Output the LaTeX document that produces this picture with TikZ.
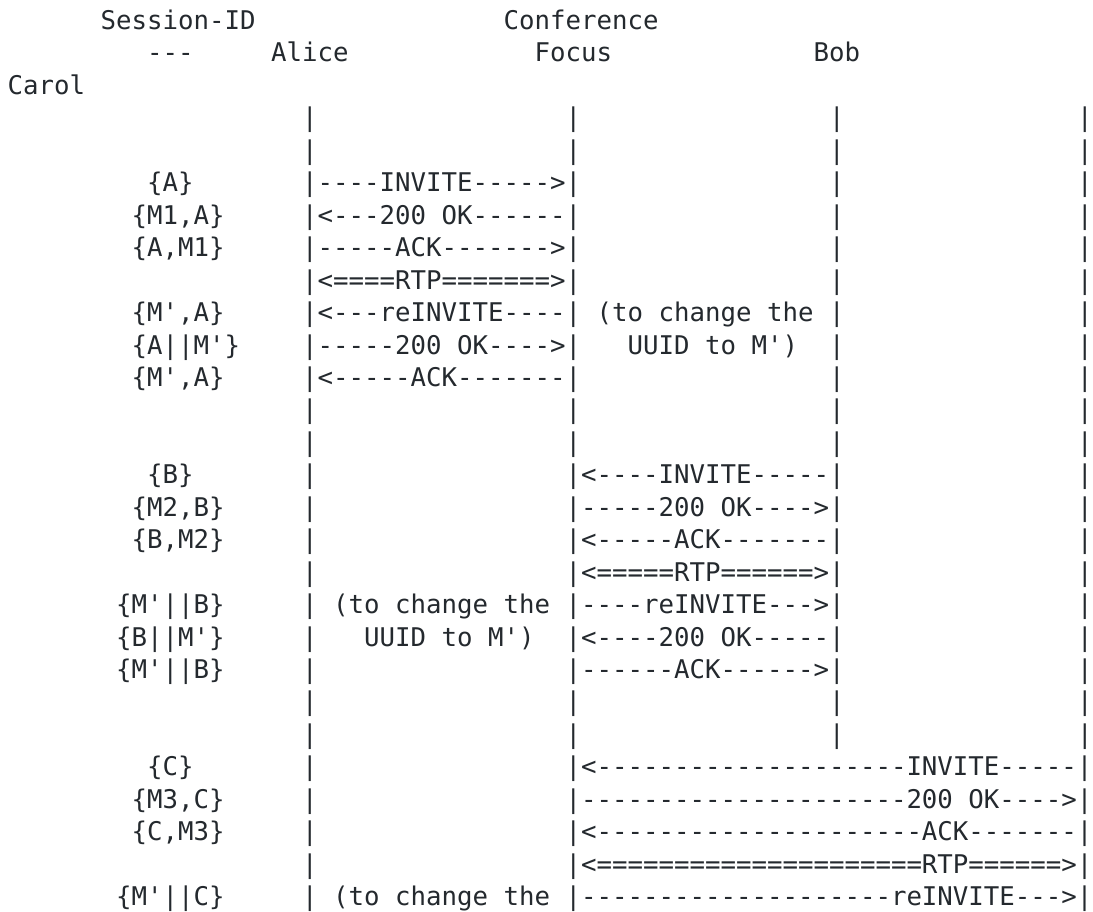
\documentclass[tikz,border=0pt]{standalone}
\usepackage{fontspec}
\setmonofont{DejaVu Sans Mono}
\definecolor{ink}{RGB}{36,41,46}
\tikzset{ascii/.style={anchor=base west,inner sep=0pt,outer sep=0pt,text=ink,
  font=\ttfamily\fontsize{25.74}{32}\selectfont}}
% one text cell: row, column, text
\newcommand{\asc}[3]{\node[ascii] (r#1c#2) at ({7.6pt+#2*15.5pt},{-29.5pt-#1*32.45pt}) {#3};}
\begin{document}
\begin{tikzpicture}
            \fill[white] (0,0) rectangle (1093pt,-911pt);
            \useasboundingbox (0,0) rectangle (1093pt,-911pt);
            % header
            \asc{0}{6}{Session-ID}
            \asc{0}{32}{Conference}
            \asc{1}{9}{---}
            \asc{1}{17}{Alice}
            \asc{1}{34}{Focus}
            \asc{1}{52}{Bob}
            \asc{2}{0}{Carol}
            % plain lifelines
            \foreach \r in {3,4,12,13,21,22}
                \foreach \c in {19,36,53}
                    {\asc{\r}{\c}{|}}
            \foreach \r in {5,6,7,8,11}
                {\asc{\r}{53}{|}}
            \foreach \r in {3,...,22}
                {\asc{\r}{69}{|}}
            \foreach \r in {14,15,16,17,20,23,24,25,26}
                {\asc{\r}{19}{|}}
            
            % Alice joins
            \asc{5}{9}{\{A\}}
            \asc{5}{19}{|----INVITE----->|}
            \asc{6}{8}{\{M1,A\}}
            \asc{6}{19}{|<---200 OK------|}
            \asc{7}{8}{\{A,M1\}}
            \asc{7}{19}{|-----ACK------->|}
            \asc{8}{19}{|<====RTP=======>|}
            \asc{9}{8}{\{M',A\}}
            \asc{9}{19}{|<---reINVITE----|}
            \asc{9}{38}{(to change the}
            \asc{9}{53}{|}
            \asc{10}{8}{\{A||M'\}}
            \asc{10}{19}{|-----200 OK---->|}
            \asc{10}{40}{UUID to M')}
            \asc{10}{53}{|}
            \asc{11}{8}{\{M',A\}}
            \asc{11}{19}{|<-----ACK-------|}
            
            % Bob joins
            \asc{14}{9}{\{B\}}
            \asc{14}{36}{|<----INVITE-----|}
            \asc{15}{8}{\{M2,B\}}
            \asc{15}{36}{|-----200 OK---->|}
            \asc{16}{8}{\{B,M2\}}
            \asc{16}{36}{|<-----ACK-------|}
            \asc{17}{36}{|<=====RTP======>|}
            \asc{18}{7}{\{M'||B\}}
            \asc{18}{19}{|}
            \asc{18}{21}{(to change the}
            \asc{18}{36}{|----reINVITE--->|}
            \asc{19}{7}{\{B||M'\}}
            \asc{19}{19}{|}
            \asc{19}{23}{UUID to M')}
            \asc{19}{36}{|<----200 OK-----|}
            \asc{20}{7}{\{M'||B\}}
            \asc{20}{36}{|------ACK------>|}
            
            % Carol joins
            \asc{23}{9}{\{C\}}
            \asc{23}{36}{|<--------------------INVITE-----|}
            \asc{24}{8}{\{M3,C\}}
            \asc{24}{36}{|---------------------200 OK---->|}
            \asc{25}{8}{\{C,M3\}}
            \asc{25}{36}{|<---------------------ACK-------|}
            \asc{26}{36}{|<=====================RTP======>|}
            \asc{27}{7}{\{M'||C\}}
            \asc{27}{19}{|}
            \asc{27}{21}{(to change the}
            \asc{27}{36}{|--------------------reINVITE--->|}
        \end{tikzpicture}
\end{document}
